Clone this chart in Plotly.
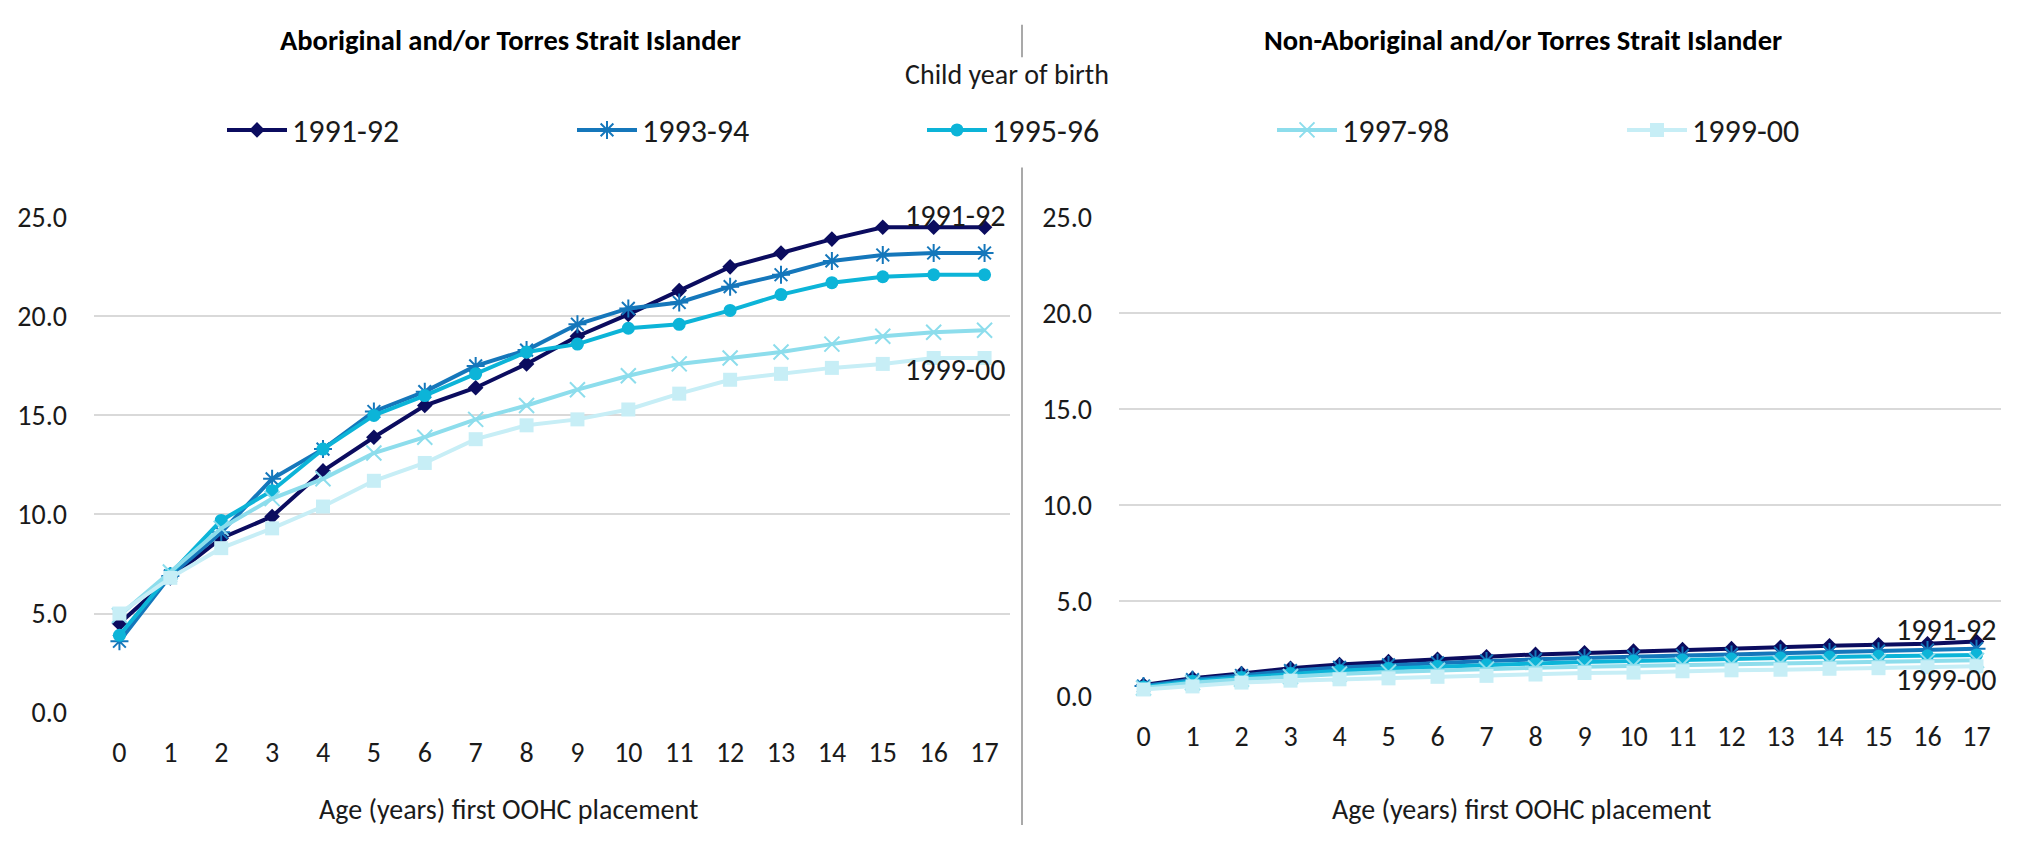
import plotly.graph_objects as go

W, H = 2018, 843
FONT = "Calibri, Carlito, Lato, sans-serif"

ages = list(range(18))
series_names = ["1991-92", "1993-94", "1995-96", "1997-98", "1999-00"]

# Aboriginal and/or Torres Strait Islander
ab_1991_92 = [4.5, 6.8, 8.8, 9.9, 12.2, 13.9, 15.5, 16.4, 17.6, 19.0, 20.1, 21.3, 22.5, 23.2, 23.9, 24.5, 24.5, 24.5]
ab_1993_94 = [3.6, 6.9, 9.1, 11.8, 13.3, 15.2, 16.2, 17.5, 18.3, 19.6, 20.4, 20.7, 21.5, 22.1, 22.8, 23.1, 23.2, 23.2]
ab_1995_96 = [3.9, 7.0, 9.7, 11.2, 13.3, 15.0, 16.0, 17.1, 18.2, 18.6, 19.4, 19.6, 20.3, 21.1, 21.7, 22.0, 22.1, 22.1]
ab_1997_98 = [4.9, 7.1, 9.3, 10.8, 11.8, 13.1, 13.9, 14.8, 15.5, 16.3, 17.0, 17.6, 17.9, 18.2, 18.6, 19.0, 19.2, 19.3]
ab_1999_00 = [5.0, 6.8, 8.3, 9.3, 10.4, 11.7, 12.6, 13.8, 14.5, 14.8, 15.3, 16.1, 16.8, 17.1, 17.4, 17.6, 17.9, 17.9]

# Non-Aboriginal and/or Torres Strait Islander
non_1991_92 = [0.6, 0.95, 1.2, 1.48, 1.67, 1.82, 1.95, 2.08, 2.2, 2.28, 2.37, 2.45, 2.5, 2.57, 2.65, 2.7, 2.75, 2.87]
non_1993_94 = [0.55, 0.88, 1.1, 1.35, 1.52, 1.65, 1.76, 1.86, 1.94, 2.02, 2.08, 2.14, 2.2, 2.26, 2.32, 2.37, 2.43, 2.5]
non_1995_96 = [0.5, 0.8, 1.0, 1.2, 1.35, 1.47, 1.57, 1.65, 1.73, 1.8, 1.86, 1.91, 1.96, 2.01, 2.06, 2.1, 2.13, 2.17]
non_1997_98 = [0.45, 0.72, 0.9, 1.05, 1.18, 1.28, 1.37, 1.44, 1.5, 1.56, 1.61, 1.66, 1.71, 1.75, 1.79, 1.83, 1.86, 1.89]
non_1999_00 = [0.37, 0.53, 0.73, 0.83, 0.9, 0.95, 1.03, 1.08, 1.15, 1.23, 1.25, 1.32, 1.37, 1.4, 1.45, 1.48, 1.53, 1.58]

y_ticks = [0, 5, 10, 15, 20, 25]

panel_titles = ["Aboriginal and/or Torres Strait Islander", "Non-Aboriginal and/or Torres Strait Islander"]
x_title = "Age (years) first OOHC placement"
legend_title = "Child year of birth"

colors = ["#0B0C5F", "#1577BB", "#0CB4D8", "#8DDDEC", "#C7EEF6"]
symbols = ["diamond", "asterisk-open", "circle", "x-thin-open", "square"]
msizes = [12, 15, 13, 15, 14]

ab = [ab_1991_92, ab_1993_94, ab_1995_96, ab_1997_98, ab_1999_00]
non = [non_1991_92, non_1993_94, non_1995_96, non_1997_98, non_1999_00]

fig = go.Figure()

def marker_for(i):
    m = dict(symbol=symbols[i], size=msizes[i], color=colors[i])
    if symbols[i].endswith("open"):
        m["line"] = dict(color=colors[i], width=2)
    return m

for i, name in enumerate(series_names):
    fig.add_trace(go.Scatter(x=ages, y=ab[i], name=name, mode="lines+markers",
                             line=dict(color=colors[i], width=4), marker=marker_for(i),
                             xaxis="x", yaxis="y", showlegend=True, cliponaxis=False))
for i, name in enumerate(series_names):
    fig.add_trace(go.Scatter(x=ages, y=non[i], name=name, mode="lines+markers",
                             line=dict(color=colors[i], width=4), marker=marker_for(i),
                             xaxis="x2", yaxis="y2", showlegend=False, cliponaxis=False))

def px(x):
    return x / W

def py(y):
    return 1 - y / H

axis_font = dict(family=FONT, size=28, color="#1a1a1a")

xcommon = dict(range=[-0.5, 17.5], tickvals=ages, ticktext=[str(a) for a in ages],
               showgrid=False, zeroline=False, showline=False, ticks="",
               tickfont=axis_font, ticklabelstandoff=20, fixedrange=True)
ycommon = dict(range=[0, 25], tickvals=y_ticks, ticktext=[f"{v:.1f}" for v in y_ticks],
               showgrid=True, gridcolor="#D9D9D9", gridwidth=2, zeroline=False,
               showline=False, ticks="", tickfont=axis_font, ticklabelstandoff=26,
               fixedrange=True)

fig.update_layout(
    width=W, height=H,
    margin=dict(l=0, r=0, t=0, b=0),
    paper_bgcolor="white", plot_bgcolor="white",
    font=dict(family=FONT, color="#1a1a1a"),
    xaxis=dict(domain=[px(94), px(1010)], anchor="y", **xcommon),
    yaxis=dict(domain=[py(725.7), py(209)], anchor="x", **ycommon),
    xaxis2=dict(domain=[px(1119), px(2001)], anchor="y2", **xcommon),
    yaxis2=dict(domain=[py(709), py(209)], anchor="x2", **ycommon),
    legend=dict(orientation="h", x=px(222), xanchor="left", y=py(118), yanchor="middle",
                entrywidth=275, entrywidthmode="pixels", itemwidth=60,
                font=dict(family=FONT, size=32, color="#1a1a1a"),
                bgcolor="rgba(0,0,0,0)", itemsizing="trace"),
    showlegend=True,
)

ann = []
title_font = dict(family=FONT, size=28.5, color="#000000")
ann.append(dict(text="<b>" + panel_titles[0] + "</b>", x=px(511), y=py(24), xref="paper", yref="paper",
                xanchor="center", yanchor="middle", showarrow=False, font=title_font))
ann.append(dict(text="<b>" + panel_titles[1] + "</b>", x=px(1523), y=py(24), xref="paper", yref="paper",
                xanchor="center", yanchor="middle", showarrow=False, font=title_font))
ann.append(dict(text=legend_title, x=px(1007), y=py(60), xref="paper", yref="paper",
                xanchor="center", yanchor="middle", showarrow=False,
                font=dict(family=FONT, size=28, color="#1a1a1a")))
ann.append(dict(text=x_title, x=px(508), y=py(827), xref="paper", yref="paper",
                xanchor="center", yanchor="middle", showarrow=False,
                font=dict(family=FONT, size=28, color="#1a1a1a")))
ann.append(dict(text=x_title, x=px(1521), y=py(827), xref="paper", yref="paper",
                xanchor="center", yanchor="middle", showarrow=False,
                font=dict(family=FONT, size=28, color="#1a1a1a")))
# series end labels
lab_font = dict(family=FONT, size=30, color="#1a1a1a")
ann.append(dict(text=series_names[0], x=px(1007), y=py(207), xref="paper", yref="paper",
                xanchor="right", yanchor="middle", showarrow=False, font=lab_font))
ann.append(dict(text=series_names[4], x=px(1007), y=py(368), xref="paper", yref="paper",
                xanchor="right", yanchor="middle", showarrow=False, font=lab_font))
ann.append(dict(text=series_names[0], x=px(1998), y=py(639), xref="paper", yref="paper",
                xanchor="right", yanchor="middle", showarrow=False, font=lab_font))
ann.append(dict(text=series_names[4], x=px(1998), y=py(691), xref="paper", yref="paper",
                xanchor="right", yanchor="middle", showarrow=False, font=lab_font))
fig.update_layout(annotations=ann)

fig.update_layout(shapes=[
    dict(type="line", xref="paper", yref="paper", x0=px(1022), x1=px(1022), y0=py(8), y1=py(42),
         line=dict(color="#8C8C8C", width=1.5)),
    dict(type="line", xref="paper", yref="paper", x0=px(1022), x1=px(1022), y0=py(157), y1=0,
         line=dict(color="#8C8C8C", width=1.5)),
])

fig.write_html("out.html", config={"displayModeBar": False},
               post_script="document.body.style.margin='0px';document.body.style.padding='0px';")
